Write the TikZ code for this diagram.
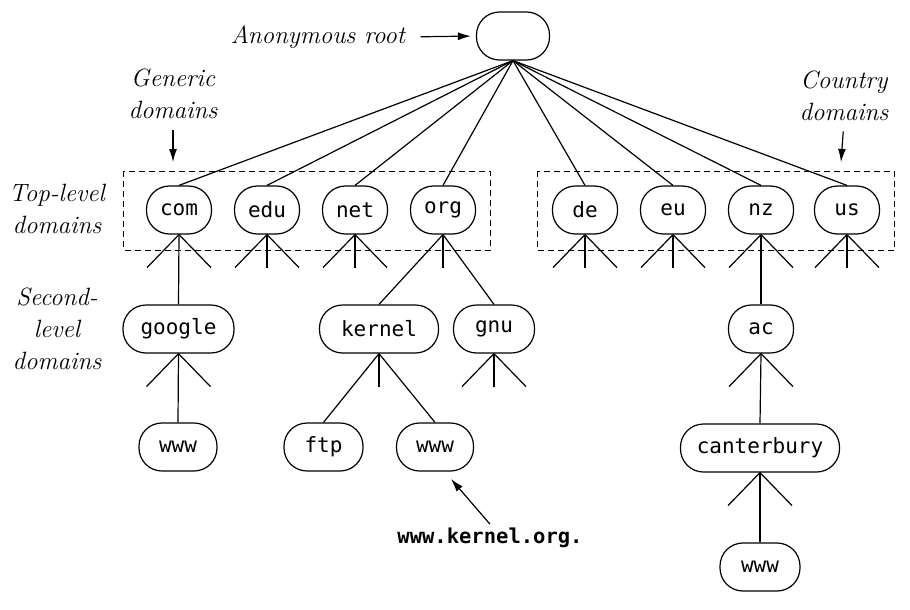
\documentclass[tikz,border=0pt]{standalone}
\usepackage{fontspec}
\setmonofont{DejaVu Sans Mono}
\usetikzlibrary{arrows.meta}
\tikzstyle{dom}=[draw,rounded corners=23pt,minimum height=48pt,inner sep=2pt,font=\fontsize{21}{24}\selectfont\ttfamily]
\tikzstyle{lbl}=[align=center,inner sep=0pt,font=\fontsize{25}{32}\selectfont\itshape]
\tikzstyle{zone}=[draw,dash pattern=on 6pt off 4pt,line width=0.8pt]
\tikzstyle{pointer}=[draw,-{Latex[length=13pt,width=8pt]}]

\begin{document}
\begin{tikzpicture}[x=1pt,y=-1pt,line width=1.2pt]
    \useasboundingbox (0,0) rectangle (910,610);
    % the root and the top-level domains
    \node[dom,minimum width=73pt] (root) at (513,36) {};
    \foreach \pos/\name in {179/com, 267/edu, 355/net, 443/org,
                            585/de, 673/eu, 761/nz, 847/us}
        \node[dom,minimum width=65pt] (\name) at (\pos,210) {\name};
    \foreach \name in {com,edu,net,org,de,eu,nz,us}
        \draw (root.south) -- (\name.north);
    % dashed groups
    \draw[zone] (123.5,171) rectangle (490,250);
    \draw[zone] (537,171) rectangle (894.5,250);
    % second and third levels
    \node[dom,minimum width=111pt] (google) at (178.5,329) {google};
    \node[dom,minimum width=119pt] (kernel) at (379,329) {kernel};
    \node[dom,minimum width=81pt] (gnu) at (494,329) {gnu};
    \node[dom,minimum width=65pt] (ac) at (761,329) {ac};
    \node[dom,minimum width=78pt] (wwwg) at (178,447) {www};
    \node[dom,minimum width=79pt] (ftp) at (323.5,447) {ftp};
    \node[dom,minimum width=77pt] (wwwk) at (435,447) {www};
    \node[dom,minimum width=159pt] (canterbury) at (760,448) {canterbury};
    \node[dom,minimum width=80pt] (wwwc) at (760,567) {www};
    \foreach \source/\dest in {com/google, org/kernel, org/gnu, nz/ac,
                               google/wwwg, kernel/ftp, kernel/wwwk,
                               ac/canterbury, canterbury/wwwc}
        \draw (\source.south) -- (\dest.north);
    % short legs of the subtrees not shown
    \foreach \name/\legs in {com/{-32,32}, edu/{-32,0,32}, net/{-32,0,32},
                             org/{0}, de/{-32,0,32}, eu/{-32,0,32},
                             nz/{-32,32}, us/{-32,0,32}, google/{-32,32},
                             kernel/{0}, gnu/{-32,0,32}, ac/{-32,32},
                             canterbury/{-32,32}}
        \foreach \dx in \legs
            \draw (\name.south) -- ++(\dx,33);
    % labels
    \node[lbl] (anon) at (318,37) {Anonymous root};
    \draw[pointer,shorten <=15pt,shorten >=5pt] (anon.east) -- (root.west);
    \node[lbl] (generic) at (173,94) {Generic\\domains};
    \coordinate (gtip) at (173,162);
    \draw[pointer,shorten <=10pt] (generic.south) -- (gtip);
    \node[lbl] (country) at (844,96) {Country\\domains};
    \coordinate (ctip) at (841,162);
    \draw[pointer,shorten <=10pt] (country.south) -- (ctip);
    \node[lbl] (toplevel) at (57,209) {Top-level\\domains};
    \node[lbl] (secondlevel) at (57,329) {Second-\\level\\domains};
    \node[font=\fontsize{20.5}{24}\selectfont\ttfamily\bfseries] (kurl) at (490,538) {www.kernel.org.};
    \coordinate (ktip) at (451,479);
    \draw[pointer] (kurl.north) -- (ktip);
\end{tikzpicture}
\end{document}
